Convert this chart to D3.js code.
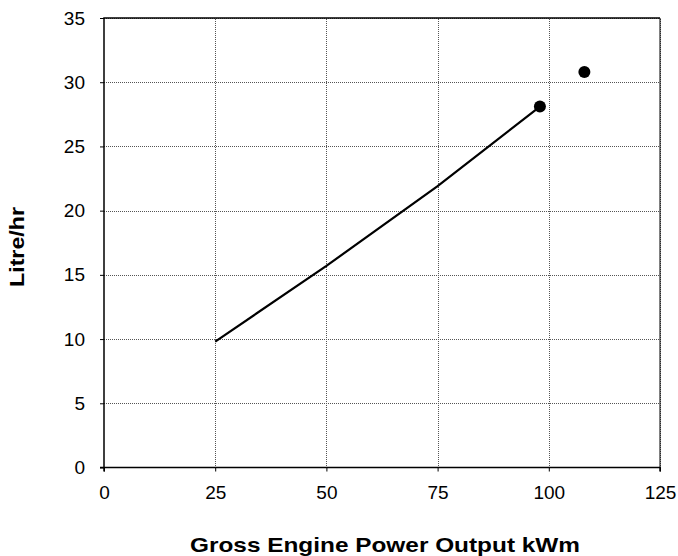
<!DOCTYPE html>
<html>
<head>
<meta charset="utf-8">
<script src="https://cdn.jsdelivr.net/npm/d3@7"></script>
<style>
  body { margin: 0; background: #fff; }
  svg { display: block; font-family: "Liberation Sans", Arial, sans-serif; }
</style>
</head>
<body>
<div id="chart"></div>
<script>
// Fuel consumption curve
const xTicks = [0, 25, 50, 75, 100, 125];
const yTicks = [0, 5, 10, 15, 20, 25, 30, 35];
const curvePower = [25, 50, 75, 98];
const curveLitres = [9.8, 15.7, 21.9, 28.1];
const pointPower = [98, 108];
const pointLitres = [28.1, 30.8];

(function () {
  "use strict";

  const width = 678, height = 556;
  const margin = { top: 18, right: 18, bottom: 88.5, left: 104 };
  const w = width - margin.left - margin.right;
  const h = height - margin.top - margin.bottom;

  const svg = d3.select("#chart").append("svg")
    .attr("width", width).attr("height", height);

  const x = d3.scaleLinear().domain([0, 125]).range([margin.left, margin.left + w]);
  const y = d3.scaleLinear().domain([0, 35]).range([margin.top + h, margin.top]);

  // --- Grid ---
  const grid = svg.append("g").attr("stroke", "#555").attr("stroke-width", 1)
    .attr("stroke-dasharray", "1,1").attr("shape-rendering", "crispEdges");
  grid.selectAll(".gx").data(xTicks.slice(1)).join("line")
    .attr("x1", d => Math.round(x(d)) + 0.5).attr("x2", d => Math.round(x(d)) + 0.5)
    .attr("y1", y(0)).attr("y2", y(35));
  grid.selectAll(".gy").data(yTicks.slice(1)).join("line")
    .attr("y1", d => Math.round(y(d)) + 0.5).attr("y2", d => Math.round(y(d)) + 0.5)
    .attr("x1", x(0)).attr("x2", x(125));

  // right border
  svg.append("line").attr("x1", x(125)).attr("x2", x(125)).attr("y1", y(0)).attr("y2", y(35))
    .attr("stroke", "#000").attr("stroke-width", 1);

  // --- Axes ---
  const xAxis = svg.append("g").attr("transform", `translate(0,${y(0)})`)
    .call(d3.axisBottom(x).tickValues(xTicks).tickSize(4).tickPadding(14).tickFormat(d3.format("d")));
  const yAxis = svg.append("g").attr("transform", `translate(${x(0)},0)`)
    .call(d3.axisLeft(y).tickValues(yTicks).tickSize(4).tickPadding(15).tickFormat(d3.format("d")));
  [xAxis, yAxis].forEach(a => {
    a.select(".domain").attr("stroke", "#000").attr("stroke-width", 1.5);
    a.selectAll(".tick line").attr("stroke", "#000");
    a.selectAll(".tick text").attr("font-size", 19).attr("fill", "#000")
      .attr("font-family", "Liberation Sans, Arial, sans-serif");
  });
  xAxis.select(".domain").attr("d", `M${x(0) - 4},0H${x(125)}V4`);
  yAxis.select(".domain").attr("d", `M0,${y(0) + 4}V${y(35)}H${x(125) - x(0)}`);

  // --- Curve ---
  const line = d3.line().x(d => x(d[0])).y(d => y(d[1]));
  svg.append("path")
    .datum(d3.zip(curvePower, curveLitres))
    .attr("d", line)
    .attr("fill", "none").attr("stroke", "#000").attr("stroke-width", 2.2);

  // --- Points ---
  svg.selectAll(".pt").data(d3.zip(pointPower, pointLitres)).join("circle")
    .attr("cx", d => x(d[0])).attr("cy", d => y(d[1])).attr("r", 6).attr("fill", "#000");

  // --- Labels ---
  svg.append("text").attr("x", 385).attr("y", 551.5)
    .attr("text-anchor", "middle").attr("font-size", 21).attr("font-weight", "bold")
    .attr("textLength", 390).attr("lengthAdjust", "spacingAndGlyphs")
    .text("Gross Engine Power Output kWm");
  svg.append("text").attr("transform", `translate(23.5,247) rotate(-90)`)
    .attr("text-anchor", "middle").attr("font-size", 20).attr("font-weight", "bold")
    .attr("textLength", 80).attr("lengthAdjust", "spacingAndGlyphs")
    .text("Litre/hr");
})();
</script>
</body>
</html>
